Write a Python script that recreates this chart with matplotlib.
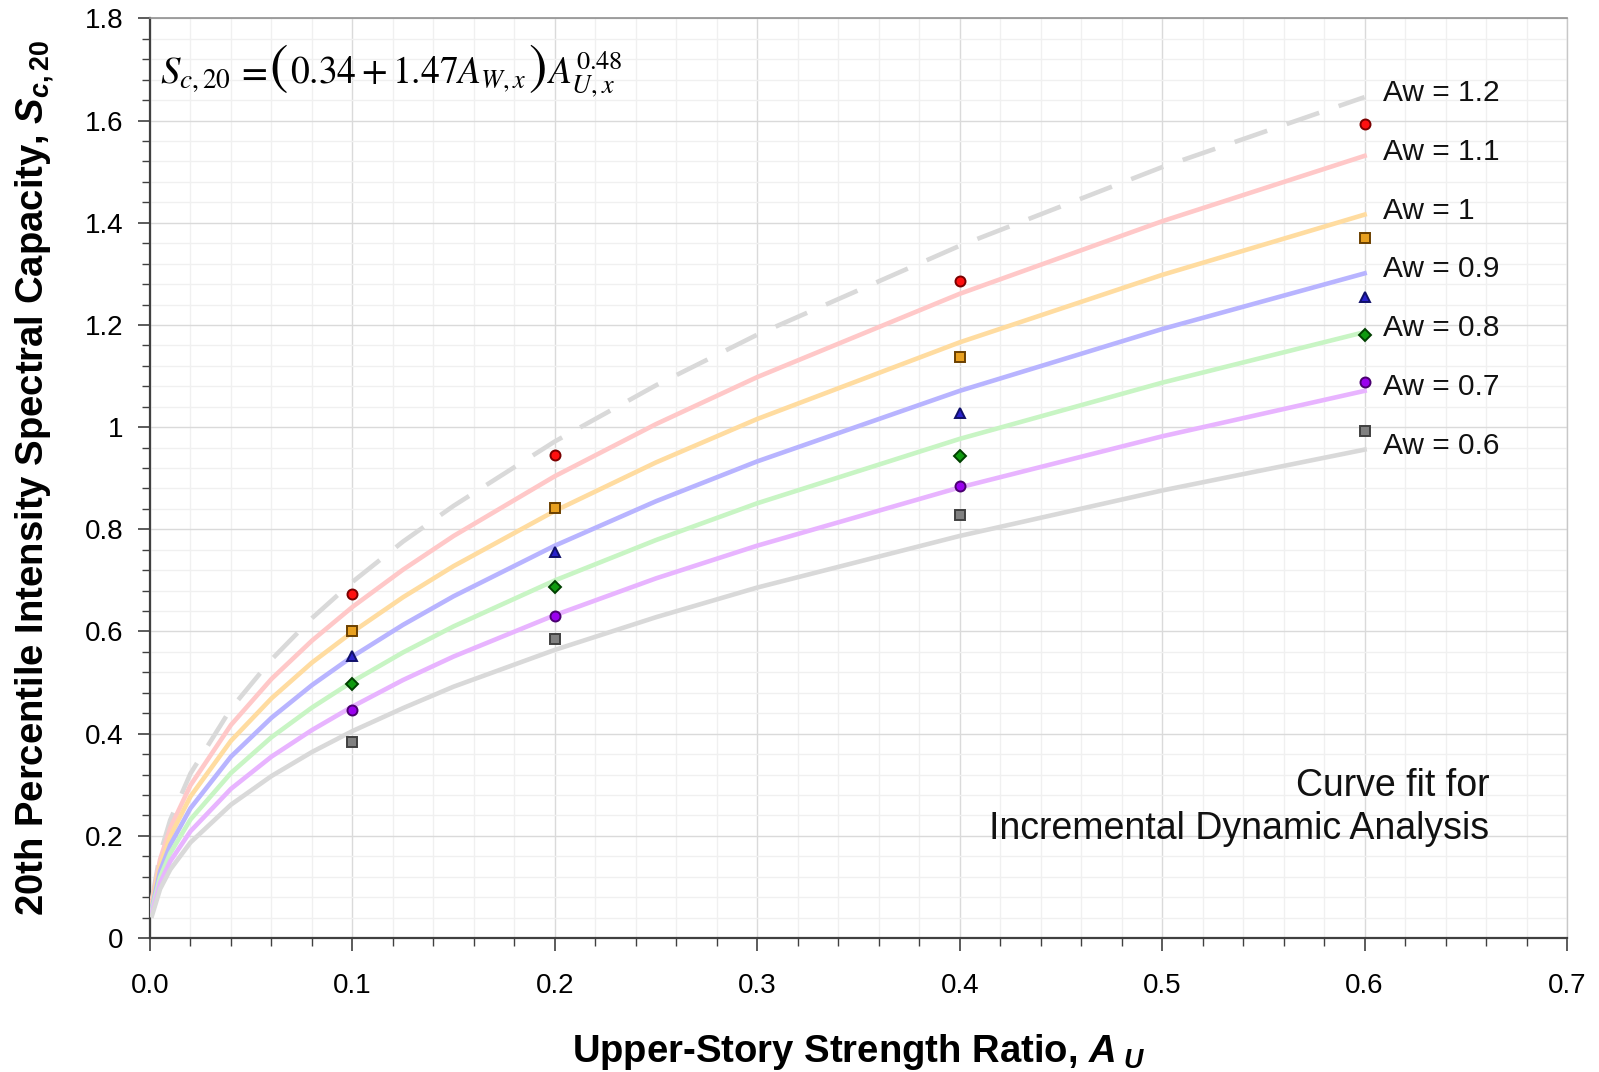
import matplotlib

matplotlib.use("Agg")

import matplotlib.pyplot as plt
from matplotlib.ticker import MultipleLocator, FuncFormatter
from matplotlib.offsetbox import TextArea, HPacker, AnchoredOffsetbox


# fitted curves at these A_U values
au = [0.001, 0.005, 0.01, 0.02, 0.04, 0.06, 0.08, 0.1, 0.125, 0.15, 0.2, 0.25, 0.3, 0.4, 0.5, 0.6]
aw_labels = ["Aw = 1.2", "Aw = 1.1", "Aw = 1", "Aw = 0.9", "Aw = 0.8", "Aw = 0.7", "Aw = 0.6"]
fit_aw12 = [0.076, 0.165, 0.231, 0.322, 0.449, 0.545, 0.626, 0.697, 0.776, 0.846, 0.972, 1.082, 1.181, 1.355, 1.509, 1.646]
fit_aw11 = [0.071, 0.154, 0.215, 0.299, 0.417, 0.507, 0.582, 0.648, 0.721, 0.787, 0.904, 1.006, 1.098, 1.261, 1.403, 1.531]
fit_aw10 = [0.066, 0.142, 0.199, 0.277, 0.386, 0.469, 0.539, 0.599, 0.667, 0.728, 0.836, 0.931, 1.016, 1.166, 1.298, 1.416]
fit_aw09 = [0.060, 0.131, 0.182, 0.254, 0.355, 0.431, 0.495, 0.551, 0.613, 0.669, 0.768, 0.855, 0.933, 1.071, 1.192, 1.301]
fit_aw08 = [0.055, 0.119, 0.166, 0.232, 0.323, 0.393, 0.451, 0.502, 0.559, 0.610, 0.700, 0.779, 0.851, 0.977, 1.087, 1.186]
fit_aw07 = [0.050, 0.108, 0.150, 0.209, 0.292, 0.355, 0.407, 0.453, 0.505, 0.551, 0.632, 0.704, 0.768, 0.882, 0.982, 1.071]
fit_aw06 = [0.044, 0.096, 0.134, 0.187, 0.261, 0.317, 0.364, 0.405, 0.450, 0.492, 0.564, 0.628, 0.686, 0.787, 0.876, 0.956]

# IDA results
au_ida = [0.1, 0.2, 0.4, 0.6]
ida_red = [0.674, 0.946, 1.287, 1.594]
ida_orange = [0.600, 0.842, 1.137, 1.371]
ida_blue = [0.552, 0.756, 1.027, 1.255]
ida_green = [0.498, 0.688, 0.944, 1.181]
ida_purple = [0.447, 0.630, 0.884, 1.089]
ida_gray = [0.383, 0.586, 0.828, 0.993]

plt.rcParams["font.family"] = ["Liberation Sans", "DejaVu Sans"]
# axis-label math in bold (italic) Arial look-alike
plt.rcParams["mathtext.fontset"] = "custom"
plt.rcParams["mathtext.rm"] = "Liberation Sans:bold"
plt.rcParams["mathtext.it"] = "Liberation Sans:italic:bold"
plt.rcParams["mathtext.bf"] = "Liberation Sans:bold"

fig = plt.figure(figsize=(15.99, 10.72), dpi=100)
ax = fig.add_axes([0.0938, 0.125, 0.8862, 0.8578])

fits = [fit_aw12, fit_aw11, fit_aw10, fit_aw09, fit_aw08, fit_aw07, fit_aw06]
fit_colors = ["#d9d9d9", "#ffc8c8", "#ffdca0", "#b8b4ff", "#c8f5c4", "#e8b4ff", "#d9d9d9"]
for i, (vals, col) in enumerate(zip(fits, fit_colors)):
    if i == 0:
        ax.plot(au, vals, color=col, lw=3.3, dashes=(7.5, 4.5), solid_capstyle="butt", zorder=3)
    else:
        ax.plot(au, vals, color=col, lw=3.3, zorder=3)
    ax.text(0.609, vals[-1] + 0.008, aw_labels[i], fontsize=21.5, va="center", ha="left", color="#111111")

markers = [
    (ida_red, "o", "#ff1010", "#7a0000"),
    (ida_orange, "s", "#e8a020", "#6b4000"),
    (ida_blue, "^", "#2a22cc", "#10106a"),
    (ida_green, "D", "#109a10", "#004000"),
    (ida_purple, "o", "#9a00ee", "#4a0070"),
    (ida_gray, "s", "#808080", "#404040"),
]
for vals, mk, fc, ec in markers:
    ms = 5.8 if mk == "D" else 7.2
    ax.plot(au_ida, vals, ls="none", marker=mk, ms=ms, mfc=fc, mec=ec, mew=1.4, zorder=4)

ax.set_xlim(0, 0.7)
ax.set_ylim(0, 1.8)
ax.xaxis.set_major_locator(MultipleLocator(0.1))
ax.xaxis.set_minor_locator(MultipleLocator(0.02))
ax.yaxis.set_major_locator(MultipleLocator(0.2))
ax.yaxis.set_minor_locator(MultipleLocator(0.04))
ax.xaxis.set_major_formatter(FuncFormatter(lambda v, p: "%.1f" % v))
ax.yaxis.set_major_formatter(FuncFormatter(lambda v, p: "%g" % round(v, 2)))

ax.grid(which="major", color="#dadada", lw=1.0, zorder=0)
ax.grid(which="minor", color="#f0f0f0", lw=1.0, zorder=0)
ax.set_axisbelow(True)

ax.tick_params(which="major", direction="out", length=9, width=1.2, color="#404040", labelsize=20)
ax.tick_params(axis="x", which="major", pad=16)
ax.tick_params(axis="y", which="major", pad=10)
ax.tick_params(which="minor", direction="out", length=6, width=1.0, color="#404040")
ax.tick_params(top=False, right=False)

for side in ["left", "bottom"]:
    ax.spines[side].set_color("#404040")
    ax.spines[side].set_linewidth(1.6)
ax.spines["top"].set_color("#909090")
ax.spines["top"].set_linewidth(1.2)
ax.spines["right"].set_color("#c8c8c8")
ax.spines["right"].set_linewidth(1.0)

ax.set_xlabel(r"Upper-Story Strength Ratio, $A_{\ U}$", fontsize=27.5, fontweight="bold", labelpad=24)
ax.set_ylabel(r"20th Percentile Intensity Spectral Capacity, $S_{c,20}$", fontsize=27.5, fontweight="bold", labelpad=20)

# equation: pieces packed on a common baseline so the brackets can be taller
eq_props = dict(fontsize=27, math_fontfamily="stix", color="black")
paren_props = dict(fontsize=40, math_fontfamily="stix", color="black")
eq_parts = [
    TextArea(r"$S_{c,20}$", textprops=dict(fontsize=28, math_fontfamily="stix")),
    TextArea(r"$\,=\,$", textprops=eq_props),
    TextArea(r"$($", textprops=paren_props),
    TextArea(r"$0.34+1.47A_{W,x}$", textprops=eq_props),
    TextArea(r"$)$", textprops=paren_props),
    TextArea(r"$A_{U,x}^{0.48}$", textprops=eq_props),
]
eq_box = HPacker(children=eq_parts, align="baseline", pad=0, sep=1)
ax.add_artist(AnchoredOffsetbox(loc="center left", child=eq_box, pad=0, borderpad=0, frameon=False,
                                bbox_to_anchor=(0.007, 0.943), bbox_transform=ax.transAxes))

ax.text(0.945, 0.142, "Curve fit for\nIncremental Dynamic Analysis",
        transform=ax.transAxes, fontsize=27, ha="right", va="center", multialignment="right",
        linespacing=1.28, color="#111111")

fig.savefig("out.png", dpi=100)
